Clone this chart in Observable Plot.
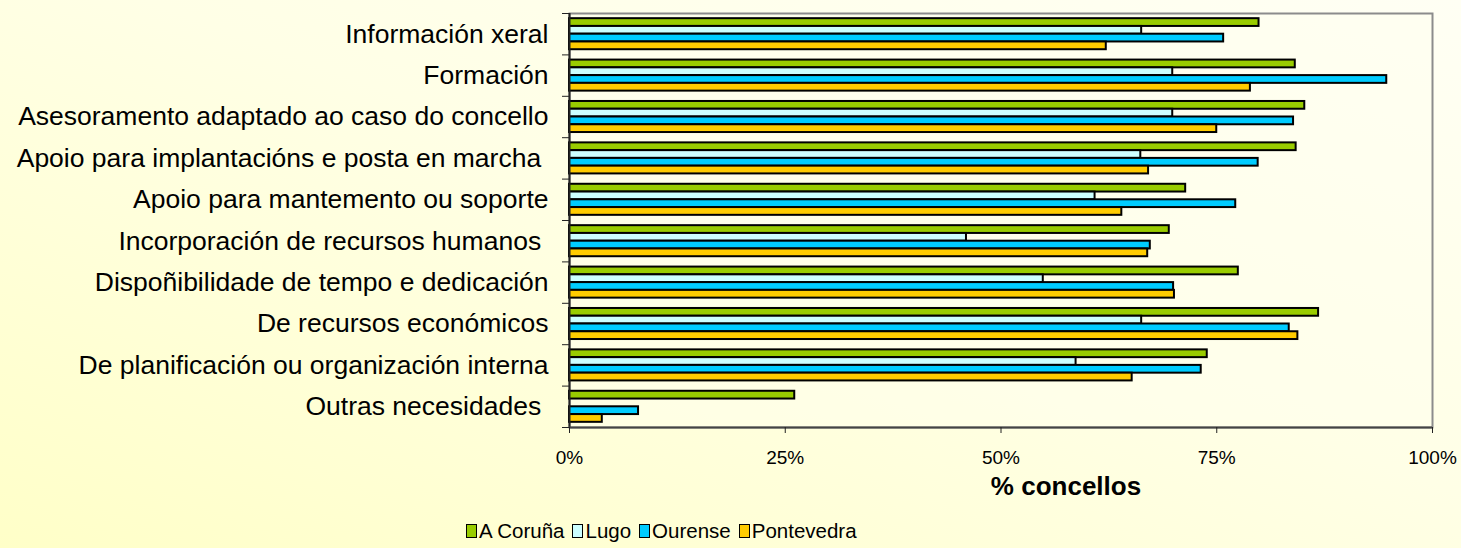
<!DOCTYPE html>
<html>
<head>
<meta charset="utf-8">
<script src="https://cdn.jsdelivr.net/npm/d3@7"></script>
<script src="https://cdn.jsdelivr.net/npm/@observablehq/plot@0.6"></script>
<style>
  html, body { margin: 0; padding: 0; }
  body {
    width: 1461px; height: 548px; overflow: hidden;
    background: linear-gradient(to top right, #FFFFC8 0%, #FFFFE6 55%, #FFFFF4 100%);
    font-family: "Liberation Sans", Arial, sans-serif;
    position: relative;
  }
  #chart svg { background: transparent !important; display: block; }
  #chart svg text { white-space: pre; }
  #legend {
    position: absolute; left: 466px; top: 519px;
    display: flex; align-items: center; font-size: 20.5px; color: #000;
    font-family: "Liberation Sans", Arial, sans-serif; line-height: 24px;
  }
  #legend .item { display: flex; align-items: center; margin-right: 8px; }
  #legend .sw { width: 9px; height: 12px; border: 1.8px solid #000; margin-right: 2px; }
</style>
</head>
<body>
<div id="chart"></div>
<div id="legend"></div>
<script>
const categories = [
  "Información xeral",
  "Formación",
  "Asesoramento adaptado ao caso do concello",
  "Apoio para implantacións e posta en marcha ",
  "Apoio para mantemento ou soporte",
  "Incorporación de recursos humanos ",
  "Dispoñibilidade de tempo e dedicación",
  "De recursos económicos",
  "De planificación ou organización interna",
  "Outras necesidades "
];
const seriesNames = ["A Coruña", "Lugo", "Ourense", "Pontevedra"];
const seriesColors = ["#99CC00", "#CCFFFF", "#00CCFF", "#FFCC00"];
const coruna     = [79.9, 84.1, 85.2, 84.2, 71.4, 69.5, 77.5, 86.8, 73.9, 26.1];
const lugo       = [66.3, 69.9, 69.9, 66.2, 60.9, 46.0, 54.9, 66.3, 58.7, 0];
const ourense    = [75.8, 94.7, 83.9, 79.8, 77.2, 67.3, 70.0, 83.4, 73.2, 8.0];
const pontevedra = [62.2, 78.9, 75.0, 67.1, 64.0, 67.0, 70.1, 84.4, 65.2, 3.8];
const xTicks = [0, 25, 50, 75, 100];

const seriesValues = [coruna, lugo, ourense, pontevedra];
const groupPad = 0.125;
const barH = (1 - 2 * groupPad) / seriesNames.length;
const rows = [];
categories.forEach((c, i) => {
  seriesValues.forEach((vals, j) => {
    if (vals[i] > 0) {
      rows.push({
        category: c, series: seriesNames[j], value: vals[i],
        y1: i + groupPad + j * barH, y2: i + groupPad + (j + 1) * barH
      });
    }
  });
});

const chart = Plot.plot({
  width: 1461,
  height: 505,
  marginLeft: 569,
  marginRight: 29,
  marginTop: 13,
  marginBottom: 78,
  style: { fontFamily: "Liberation Sans, Arial, sans-serif", background: "transparent", color: "#000" },
  x: { domain: [0, 100] },
  y: { domain: [categories.length, 0] },
  color: { domain: seriesNames, range: seriesColors },
  marks: [
    Plot.frame({ fill: "#FFFFF0", fillOpacity: 0.45, stroke: "#8c8c8c", strokeWidth: 2 }),
    Plot.rect(rows, {
      x1: 0, x2: "value", y1: "y1", y2: "y2",
      fill: "series", stroke: "#000", strokeWidth: 2
    }),
    Plot.ruleX([0], { stroke: "#222", strokeWidth: 2 }),
    Plot.ruleY([categories.length], { stroke: "#444", strokeWidth: 2 }),
    Plot.axisY(d3.range(categories.length + 1), {
      tickSize: 7, tickFormat: () => "", label: null, stroke: "#222"
    }),
    Plot.axisY(d3.range(categories.length).map(i => i + 0.5), {
      tickSize: 0, tickPadding: 21, fontSize: 26.5,
      tickFormat: d => categories[Math.floor(d)], label: null
    }),
    Plot.axisX(xTicks, {
      tickSize: 6, tickPadding: 17, fontSize: 19,
      tickFormat: d => d + "%", label: null, stroke: "#222"
    }),
    Plot.text(["% concellos"], {
      frameAnchor: "bottom", dx: 65, dy: 67, fontSize: 26, fontWeight: "bold", fill: "#000"
    })
  ]
});
document.getElementById("chart").appendChild(chart);

const legend = document.getElementById("legend");
seriesNames.forEach((s, j) => {
  const item = document.createElement("div");
  item.className = "item";
  const sw = document.createElement("div");
  sw.className = "sw";
  sw.style.background = seriesColors[j];
  const t = document.createElement("span");
  t.textContent = s;
  item.appendChild(sw);
  item.appendChild(t);
  legend.appendChild(item);
});
</script>
</body>
</html>
